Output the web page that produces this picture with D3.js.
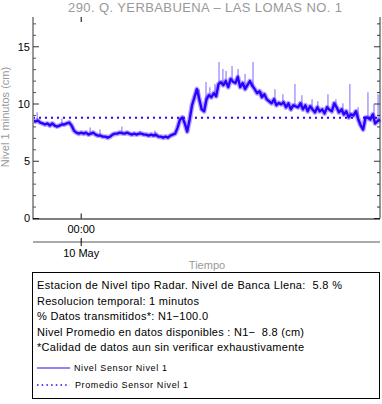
<!DOCTYPE html>
<html><head><meta charset="utf-8">
<script src="https://cdn.jsdelivr.net/npm/d3@7"></script>
<style>
html,body{margin:0;padding:0;background:#fff;}
svg{display:block;font-family:"Liberation Sans",Arial,Helvetica,sans-serif;}
text{white-space:pre;}
</style></head>
<body>
<svg id="chart" width="382" height="404"></svg>
<script>
// ---- data ----
const titulo = "290. Q. YERBABUENA \u2013 LAS LOMAS NO. 1";
const inicio = Date.UTC(2024, 4, 9, 20, 40);   // first sample (UTC)
const pasoMin = 10;                               // minutes between listed samples
const nivel = [
  8.56, 8.47, 8.56, 8.38, 8.30, 8.21, 8.30, 8.12, 8.30, 8.12,
  8.03, 8.12, 8.21, 8.21, 8.30, 8.38, 8.12, 7.68, 7.50, 7.41,
  7.50, 7.41, 7.50, 7.33, 7.41, 7.50, 7.33, 7.24, 7.24, 7.15,
  7.15, 7.06, 7.15, 7.33, 7.41, 7.41, 7.50, 7.45, 7.41, 7.50,
  7.41, 7.33, 7.41, 7.33, 7.41, 7.41, 7.33, 7.33, 7.24, 7.33,
  7.24, 7.33, 7.15, 7.15, 7.06, 7.15, 7.06, 7.24, 7.33, 7.41,
  7.94, 8.65, 8.83, 8.30, 7.59, 8.65, 9.89, 10.59, 11.30, 10.41,
  9.53, 9.36, 10.41, 10.77, 10.59, 10.94, 10.68, 11.74, 11.90, 11.65,
  12.00, 11.47, 12.18, 11.95, 11.83, 12.36, 11.47, 11.83, 11.30, 11.65,
  12.00, 11.60, 11.30, 10.94, 11.12, 10.59, 10.86, 10.41, 10.24, 10.06,
  10.41, 9.89, 10.10, 9.97, 10.15, 9.71, 10.06, 9.53, 9.89, 9.80,
  9.71, 10.06, 9.53, 9.89, 9.36, 9.80, 9.53, 9.27, 9.71, 9.36,
  9.53, 9.18, 9.71, 9.50, 9.36, 10.06, 9.71, 9.27, 9.53, 9.09,
  9.36, 8.83, 9.10, 9.00, 9.36, 8.65, 8.12, 7.77, 8.83, 8.80,
  8.65, 9.09, 8.30, 8.50, 8.65
];
// short spikes: [minutes after first sample, value]
const picos = [
  [17, 9.27], [120, 8.74], [237, 7.94], [278, 7.77], [369, 8.03],
  [444, 7.68], [506, 7.68], [689, 11.30], [718, 11.92], [734, 11.47],
  [755, 11.74], [772, 13.68], [788, 13.06], [801, 12.89], [826, 13.33],
  [851, 13.06], [880, 12.62], [913, 13.68], [950, 11.12], [1004, 11.30],
  [1037, 10.86], [1087, 11.74], [1116, 10.77], [1158, 10.41], [1182, 10.24],
  [1224, 10.86], [1257, 10.41], [1286, 10.06], [1315, 11.74], [1349, 9.71],
  [1365, 7.77], [1390, 11.03], [1415, 9.97], [1432, 10.86]
];
const promedio = 8.8;
const yMax = 17.6;
const yTicksMayores = [0, 5, 10, 15];
const yTicksMenores = [1,2,3,4,6,7,8,9,11,12,13,14,16,17];
const xTicks = [Date.UTC(2024, 4, 10, 0, 0)];
const xEtiquetaHora = ["00:00"];
const xEtiquetaDia = ["10 May"];
const lineasTexto = [
  "Estacion de Nivel tipo Radar. Nivel de Banca Llena:  5.8 %",
  "Resolucion temporal: 1 minutos",
  "% Datos transmitidos*: N1\u2212100.0",
  "Nivel Promedio en datos disponibles : N1\u2212  8.8 (cm)",
  "*Calidad de datos aun sin verificar exhaustivamente"
];
const anchoTexto = [305, 162, 171, 267, 267];
const leyenda = ["Nivel Sensor Nivel 1", "Promedio Sensor Nivel 1"];
const anchoLeyenda = [93, 113];

// ---- layout ----
const L = 33, R = 380, T = 17, B = 218.5;
const azul = "#2a00ff";
const gris = "#999";

const svg = d3.select("#chart");
const serie = nivel.map((v, i) => ({t: new Date(inicio + i * pasoMin * 60000), v}));
const x = d3.scaleTime()
  .domain([serie[0].t, serie[serie.length - 1].t])
  .range([L, R]);
const y = d3.scaleLinear().domain([0, yMax]).range([B, T]);

// title
svg.append("text").attr("x", 205).attr("y", 12).attr("text-anchor", "middle")
  .attr("font-size", 13).attr("fill", gris)
  .attr("textLength", 274).attr("lengthAdjust", "spacing").text(titulo);

// y label
svg.append("text").attr("transform", "translate(9,117) rotate(-90)")
  .attr("text-anchor", "middle").attr("font-size", 11).attr("fill", gris)
  .text("Nivel 1 minutos (cm)");

// spikes
const base = t => {
  const i = Math.min(serie.length - 2, Math.floor(t / pasoMin));
  const f = (t - i * pasoMin) / pasoMin;
  return serie[i].v + f * (serie[i + 1].v - serie[i].v);
};
svg.selectAll(".pico").data(picos).join("line").attr("class", "pico")
  .attr("x1", d => x(new Date(inicio + d[0] * 60000)))
  .attr("x2", d => x(new Date(inicio + d[0] * 60000)))
  .attr("y1", d => y(base(d[0]))).attr("y2", d => y(d[1]))
  .attr("stroke", azul).attr("stroke-opacity", 0.5).attr("stroke-width", 1.2);

// data line
const linea = d3.line().x(d => x(d.t)).y(d => y(d.v));
svg.append("path").datum(serie).attr("d", linea)
  .attr("fill", "none").attr("stroke", azul).attr("stroke-opacity", 0.35)
  .attr("stroke-width", 5).attr("stroke-linejoin", "round");
svg.append("path").datum(serie).attr("d", linea)
  .attr("fill", "none").attr("stroke", azul)
  .attr("stroke-width", 2.4).attr("stroke-linejoin", "round");

// mean dotted line
svg.append("line").attr("x1", L).attr("x2", R)
  .attr("y1", y(promedio)).attr("y2", y(promedio))
  .attr("stroke", azul).attr("stroke-width", 2).attr("stroke-dasharray", "2,4");

// left axis (gray)
const gl = svg.append("g").attr("transform", `translate(${L},0)`);
gl.append("line").attr("y1", T).attr("y2", B + 1).attr("stroke", gris).attr("stroke-width", 2);
gl.selectAll(".maj").data(yTicksMayores).join("line").attr("class", "maj")
  .attr("x1", 0).attr("x2", 6).attr("y1", d => y(d)).attr("y2", d => y(d))
  .attr("stroke", "#333").attr("stroke-width", 1);
gl.selectAll(".min").data(yTicksMenores).join("line").attr("class", "min")
  .attr("x1", 0).attr("x2", 3).attr("y1", d => y(d)).attr("y2", d => y(d))
  .attr("stroke", "#555").attr("stroke-width", 1);
gl.selectAll("text").data(yTicksMayores).join("text")
  .attr("x", -3).attr("y", d => y(d)).attr("dy", "0.35em")
  .attr("text-anchor", "end").attr("font-size", 11).attr("fill", "#000")
  .text(d => d);

// right axis
const gr = svg.append("g").attr("transform", `translate(${R},0)`);
gr.append("line").attr("y1", T).attr("y2", B).attr("stroke", "#333").attr("stroke-width", 1);
gr.selectAll(".maj").data(yTicksMayores).join("line").attr("class", "maj")
  .attr("x1", 0).attr("x2", -6).attr("y1", d => y(d)).attr("y2", d => y(d))
  .attr("stroke", "#333");
gr.selectAll(".min").data(yTicksMenores).join("line").attr("class", "min")
  .attr("x1", 0).attr("x2", -3).attr("y1", d => y(d)).attr("y2", d => y(d))
  .attr("stroke", "#333");

// bottom axis
svg.append("line").attr("x1", L).attr("x2", R).attr("y1", B + 0.5).attr("y2", B + 0.5)
  .attr("stroke", "#000").attr("stroke-width", 1);
svg.selectAll(".xtb").data(xTicks).join("line").attr("class", "xtb")
  .attr("x1", d => x(d)).attr("x2", d => x(d)).attr("y1", B).attr("y2", B - 5)
  .attr("stroke", "#000");
svg.selectAll(".xtt").data(xTicks).join("line").attr("class", "xtt")
  .attr("x1", d => x(d)).attr("x2", d => x(d)).attr("y1", T).attr("y2", T + 5)
  .attr("stroke", "#000");
svg.selectAll(".xlh").data(xTicks).join("text").attr("class", "xlh")
  .attr("x", d => x(d)).attr("y", 233).attr("text-anchor", "middle")
  .attr("font-size", 11).text((d, i) => xEtiquetaHora[i]);

// second (date) axis
svg.append("line").attr("x1", L).attr("x2", R).attr("y1", 242).attr("y2", 242)
  .attr("stroke", "#aaa").attr("stroke-width", 2);
svg.selectAll(".xtd").data(xTicks).join("line").attr("class", "xtd")
  .attr("x1", d => x(d)).attr("x2", d => x(d)).attr("y1", 238).attr("y2", 246)
  .attr("stroke", "#000");
svg.selectAll(".xld").data(xTicks).join("text").attr("class", "xld")
  .attr("x", d => x(d)).attr("y", 257).attr("text-anchor", "middle")
  .attr("font-size", 11).text((d, i) => xEtiquetaDia[i]);
svg.append("text").attr("x", 207).attr("y", 269).attr("text-anchor", "middle")
  .attr("font-size", 11).attr("fill", gris).text("Tiempo");

// info box
svg.append("rect").attr("x", 32.5).attr("y", 272.5).attr("width", 347).attr("height", 126)
  .attr("fill", "none").attr("stroke", "#000").attr("stroke-width", 1);
svg.selectAll(".info").data(lineasTexto).join("text").attr("class", "info")
  .attr("x", 37).attr("y", (d, i) => 289 + i * 15.5)
  .attr("font-size", 11)
  .attr("textLength", (d, i) => anchoTexto[i]).attr("lengthAdjust", "spacing")
  .text(d => d);
const leg = svg.selectAll(".leg").data(leyenda).join("g").attr("class", "leg")
  .attr("transform", (d, i) => `translate(0,${368 + i * 17})`);
leg.append("line").attr("x1", 37).attr("x2", 70).attr("y1", 0).attr("y2", 0)
  .attr("stroke", azul).attr("stroke-width", (d, i) => i ? 1.5 : 1.2)
  .attr("stroke-dasharray", (d, i) => i ? "1.5,3.2" : null);
leg.append("text").attr("x", (d, i) => i ? 75 : 74).attr("y", 3)
  .attr("font-size", 9)
  .attr("textLength", (d, i) => anchoLeyenda[i]).attr("lengthAdjust", "spacing")
  .text(d => d);
</script>
</body></html>
